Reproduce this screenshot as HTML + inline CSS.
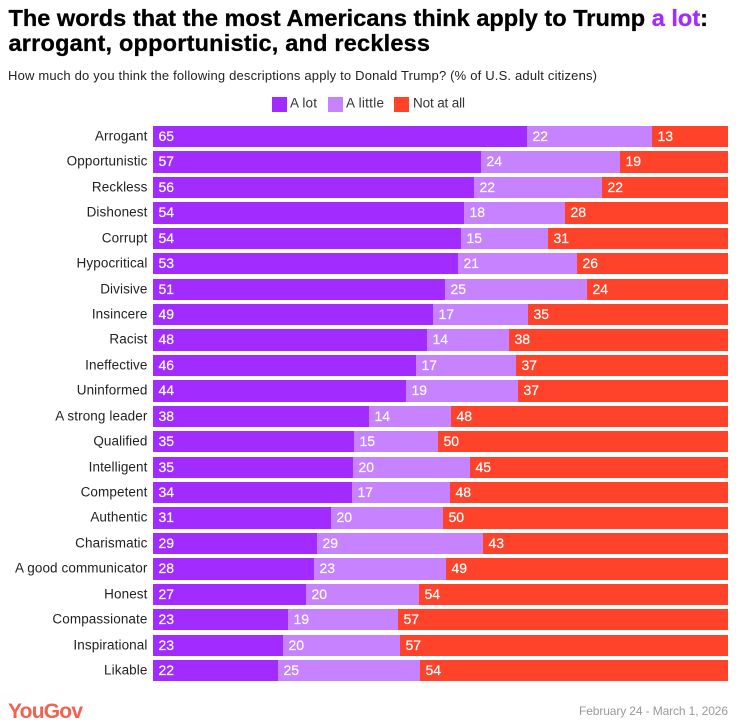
<!DOCTYPE html>
<html lang="en">
<head>
<meta charset="utf-8">
<title>YouGov chart: words Americans apply to Trump</title>
<style>
html,body{margin:0;padding:0;background:#fff;width:741px;height:726px;overflow:hidden}
svg{display:block;font-family:"Liberation Sans",Arial,sans-serif}
</style>
</head>
<body>
<svg id="chart" width="741" height="726" viewBox="0 0 741 726" xmlns="http://www.w3.org/2000/svg">
  <rect width="741" height="726" fill="#fff"/>
  <text x="8.5" y="26" font-size="23.5" font-weight="700" fill="#000" stroke="#000" stroke-width="0.3" textLength="699.5" lengthAdjust="spacing">The words that the most Americans think apply to Trump <tspan fill="#a22cff" stroke="#a22cff">a lot</tspan>:</text>
  <text x="8.5" y="51" font-size="23.5" font-weight="700" fill="#000" stroke="#000" stroke-width="0.3" textLength="421.5" lengthAdjust="spacing">arrogant, opportunistic, and reckless</text>
  <text x="8" y="80" font-size="13" fill="#222" textLength="589" lengthAdjust="spacing">How much do you think the following descriptions apply to Donald Trump? (% of U.S. adult citizens)</text>

  <g font-size="13.5" fill="#333">
    <rect x="272" y="97" width="15" height="15" fill="#a22cff"/>
    <text x="290" y="107.5" textLength="27" lengthAdjust="spacing">A lot</text>
    <rect x="328" y="97" width="15" height="15" fill="#c682ff"/>
    <text x="346" y="107.5" textLength="38" lengthAdjust="spacing">A little</text>
    <rect x="394" y="97" width="15" height="15" fill="#ff432a"/>
    <text x="413" y="107.5" textLength="52" lengthAdjust="spacing">Not at all</text>
  </g>

  <g id="rows"></g>

  <text x="8" y="718" font-size="21" font-weight="700" fill="#f4614f" textLength="75" lengthAdjust="spacing">YouGov</text>
  <text x="579" y="715" font-size="12" fill="#999" textLength="149" lengthAdjust="spacing">February 24 - March 1, 2026</text>
</svg>
<script>
const categories = ["Arrogant","Opportunistic","Reckless","Dishonest","Corrupt","Hypocritical","Divisive","Insincere","Racist","Ineffective","Uninformed","A strong leader","Qualified","Intelligent","Competent","Authentic","Charismatic","A good communicator","Honest","Compassionate","Inspirational","Likable"];
const aLot = [65.0,57.0,55.8,54.1,53.6,53.0,50.8,48.7,47.7,45.7,44.0,37.6,35.0,34.8,34.49,31.0,28.5,28.0,26.6,23.48,22.6,21.7];
const aLittle = [21.7,24.3,22.3,17.6,15.1,20.7,24.7,16.5,14.3,17.4,19.48,14.3,14.6,20.3,17.0,19.5,28.87,23.0,19.7,19.1,20.3,24.7];
const notAtAll = [13.3,18.7,21.9,28.3,31.3,26.3,24.49,34.8,38.1,36.9,36.52,48.1,50.4,44.9,48.3,49.6,42.6,49.0,53.7,57.4,57.0,53.6];

const NS = "http://www.w3.org/2000/svg";
const plotLeft = 153, plotRight = 728, plotTop = 126, rowPitch = 25.43, barHeight = 21.3;
const seriesNames = ["a-lot","a-little","not-at-all"];
const seriesColors = ["#a22cff","#c682ff","#ff432a"];
const seriesValues = [aLot, aLittle, notAtAll];
const rowsGroup = document.getElementById("rows");

function xScale(share){ return plotLeft + share * (plotRight - plotLeft); }
function yScale(index){ return plotTop + index * rowPitch; }

categories.forEach(function(category, i){
  const slug = category.toLowerCase().replace(/\s+/g, "-");
  const top = Math.round(yScale(i));
  const bottom = Math.round(yScale(i) + barHeight);
  const row = document.createElementNS(NS, "g");
  
  

  const label = document.createElementNS(NS, "text");
  
  
  label.setAttribute("x", plotLeft - 5.5);
  label.setAttribute("y", top + 14.5);
  label.setAttribute("text-anchor", "end");
  label.setAttribute("font-size", "13.5");
  label.setAttribute("letter-spacing", "0.1");
  label.setAttribute("fill", "#222");
  label.textContent = category;
  row.appendChild(label);

  const total = aLot[i] + aLittle[i] + notAtAll[i];
  let cumulative = 0;
  seriesValues.forEach(function(series, s){
    const value = series[i];
    const x0 = Math.round(xScale(cumulative / total));
    cumulative += value;
    const x1 = Math.round(xScale(cumulative / total));

    const bar = document.createElementNS(NS, "rect");
    
    
    bar.setAttribute("x", x0);
    bar.setAttribute("y", top);
    bar.setAttribute("width", Math.max(0, x1 - x0));
    bar.setAttribute("height", bottom - top);
    bar.setAttribute("fill", seriesColors[s]);
    bar.setAttribute("shape-rendering", "crispEdges");
    row.appendChild(bar);

    const valueLabel = document.createElementNS(NS, "text");
    
    
    valueLabel.setAttribute("x", x0 + 5.5);
    valueLabel.setAttribute("y", top + 15);
    valueLabel.setAttribute("font-size", "14");
    valueLabel.setAttribute("fill", "#fff");
    valueLabel.setAttribute("stroke", "#fff");
    valueLabel.setAttribute("stroke-width", "0.2");
    valueLabel.textContent = Math.round(value);
    row.appendChild(valueLabel);
  });
  rowsGroup.appendChild(row);
});
</script>
</body>
</html>
